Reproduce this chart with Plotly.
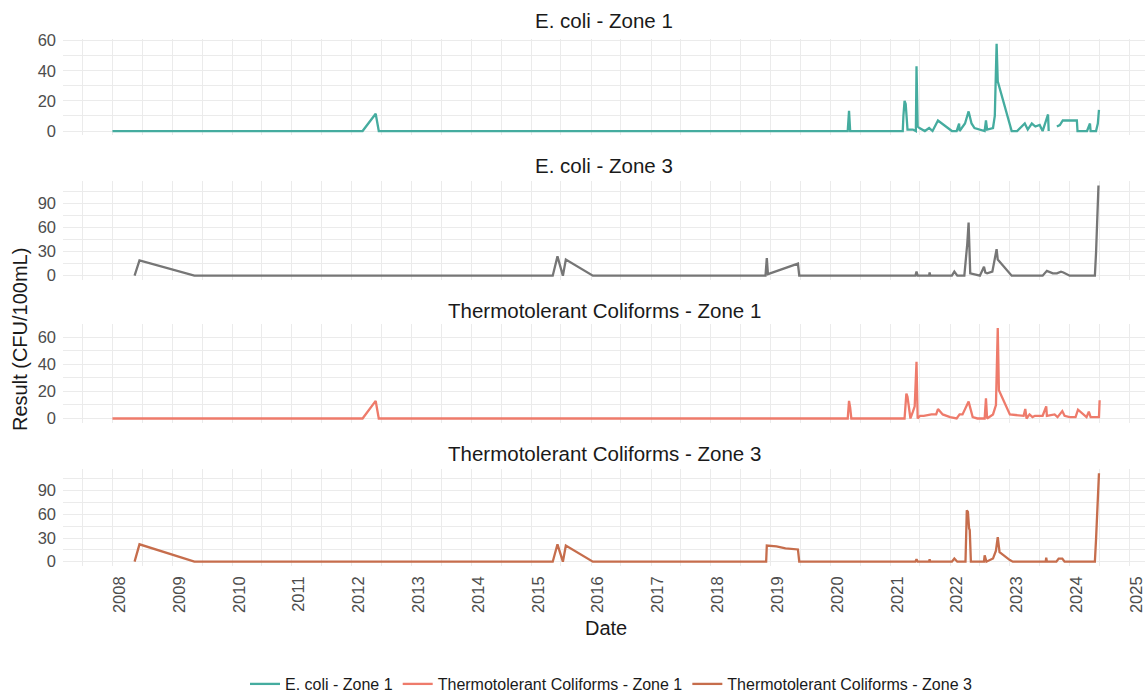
import plotly.graph_objects as go
from plotly.subplots import make_subplots

# ---- Sample results (CFU/100mL) by parameter and zone ----
ecoli_z1_dates = [
    "2008-01-01", "2012-03-07", "2012-05-26", "2012-06-14", "2020-04-16", "2020-04-24",
    "2020-05-01", "2021-03-18", "2021-03-22", "2021-03-29", "2021-04-05", "2021-04-16",
    "2021-05-19", "2021-06-06", "2021-06-10", "2021-06-17", "2021-06-28", "2021-07-31",
    "2021-08-26", "2021-09-16", "2021-10-19", "2022-01-12", "2022-02-10", "2022-02-25",
    "2022-02-28", "2022-04-02", "2022-04-24", "2022-05-12", "2022-05-30", "2022-07-02",
    "2022-07-31", "2022-08-08", "2022-08-15", "2022-09-20", "2022-10-01", "2022-10-12",
    "2022-10-19", "2023-01-12", "2023-02-14", "2023-04-02", "2023-04-20", "2023-05-15",
    "2023-06-06", "2023-07-02", "2023-07-20", "2023-08-22", "2023-08-26", "2023-09-15",
    "2023-10-15", "2023-11-02", "2023-11-20", "2024-02-14", "2024-02-18", "2024-04-16",
    "2024-05-04", "2024-05-08", "2024-06-10", "2024-06-21", "2024-06-28",
]
ecoli_z1_values = [
    0, 0, 11.5, 0, 0, 13.5,
    0, 0, 10, 20, 18, 1,
    1, 0, 43, 3, 2, 0,
    2, 0, 7, 0, 0, 5,
    0, 5, 13, 5, 2, 1,
    0, 7, 1, 2, 10, 58,
    33, 0, 0, 5, 1, 5,
    3, 4, 0, 11, 0, None,
    3, 4, 7, 7, 0, 0,
    5, 0, 0, 5, 14,
]

ecoli_z3_dates = [
    "2008-05-15", "2008-06-14", "2009-05-15", "2015-05-12", "2015-06-10", "2015-07-13",
    "2015-07-31", "2016-01-12", "2018-12-01", "2018-12-09", "2018-12-16", "2019-06-17",
    "2019-06-25", "2021-06-03", "2021-06-10", "2021-06-17", "2021-08-26", "2021-08-29",
    "2021-09-02", "2022-01-12", "2022-01-27", "2022-02-14", "2022-03-29", "2022-04-02",
    "2022-04-09", "2022-04-16", "2022-04-24", "2022-04-27", "2022-05-04", "2022-07-02",
    "2022-07-27", "2022-08-04", "2022-08-15", "2022-09-16", "2022-10-12", "2022-10-19",
    "2023-01-12", "2023-07-20", "2023-08-15", "2023-09-20", "2023-10-15", "2023-11-09",
    "2023-11-24", "2024-01-01", "2024-06-03", "2024-06-10", "2024-06-17", "2024-06-25",
]
ecoli_z3_values = [
    0, 19, 0, 0, 24, 0,
    20, 0, 0, 22, 2, 15,
    0, 0, 5, 0, 0, 4,
    0, 0, 5, 0, 0, 8,
    18, 40, 66, 45, 3, 0,
    11, 4, 3, 5, 33, 20,
    0, 0, 6, 3, 3, 5,
    4, 0, 0, 28, 80, 112,
]

thermo_z1_dates = [
    "2008-01-01", "2012-03-07", "2012-05-26", "2012-06-14", "2020-04-16", "2020-04-24",
    "2020-05-01", "2020-05-08", "2021-03-29", "2021-04-09", "2021-04-16", "2021-05-04",
    "2021-05-19", "2021-05-30", "2021-06-10", "2021-06-17", "2021-07-02", "2021-07-24",
    "2021-09-09", "2021-10-08", "2021-10-19", "2021-11-17", "2022-01-01", "2022-02-10",
    "2022-02-28", "2022-03-18", "2022-04-24", "2022-05-12", "2022-05-19", "2022-06-17",
    "2022-07-31", "2022-08-08", "2022-08-15", "2022-09-20", "2022-10-08", "2022-10-19",
    "2022-10-26", "2023-01-01", "2023-03-26", "2023-04-05", "2023-04-13", "2023-05-01",
    "2023-05-19", "2023-06-03", "2023-07-20", "2023-08-11", "2023-08-15", "2023-10-01",
    "2023-10-19", "2023-11-17", "2023-12-01", "2024-01-01", "2024-02-06", "2024-02-21",
    "2024-03-22", "2024-04-13", "2024-04-27", "2024-05-08", "2024-06-03", "2024-06-28",
    "2024-07-02",
]
thermo_z1_values = [
    0, 0, 13, 0, 0, 13,
    8, 0, 0, 18.5, 16, 0,
    5, 9, 42, 0, 2, 2,
    3, 3, 7, 3, 1, 0,
    3, 3, 12.5, 5, 1, 0,
    0, 15, 0, 3, 10, 67,
    21, 3, 2, 7, 0, 3,
    1, 2, 2, 9, 2, 3,
    1, 5.5, 2, 1, 1, 6.5,
    3, 1, 5, 1, 1, 1,
    13.5,
]

thermo_z3_dates = [
    "2008-05-15", "2008-06-14", "2009-05-15", "2015-05-12", "2015-06-10", "2015-07-13",
    "2015-07-31", "2016-01-12", "2018-12-05", "2018-12-09", "2019-02-06", "2019-04-02",
    "2019-06-17", "2019-06-25", "2021-06-03", "2021-06-10", "2021-06-17", "2021-08-26",
    "2021-08-29", "2021-09-02", "2022-01-12", "2022-01-27", "2022-02-14", "2022-04-05",
    "2022-04-13", "2022-04-20", "2022-04-27", "2022-05-01", "2022-05-08", "2022-07-27",
    "2022-07-31", "2022-08-11", "2022-09-20", "2022-10-08", "2022-10-19", "2022-10-30",
    "2023-01-01", "2023-01-19", "2023-08-08", "2023-08-11", "2023-08-15", "2023-10-12",
    "2023-10-26", "2023-11-17", "2023-12-01", "2024-06-03", "2024-06-10", "2024-06-17",
    "2024-06-21", "2024-06-28",
]
thermo_z3_values = [
    0, 22, 0, 0, 22, 0,
    20.5, 0, 0, 20.5, 19.5, 17,
    15.5, 0, 0, 3, 0, 0,
    3, 0, 0, 4, 0, 0,
    65, 63, 42, 40, 0, 0,
    8, 0, 4, 14, 31, 12,
    2, 0, 0, 5, 0, 0,
    4, 4, 0, 0, 28, 56,
    82, 112,
]

panel_titles = [
    "E. coli - Zone 1",
    "E. coli - Zone 3",
    "Thermotolerant Coliforms - Zone 1",
    "Thermotolerant Coliforms - Zone 3",
]
year_ticks = [str(y) for y in range(2008, 2026)]

# ---- Styling ----
FONT = "Liberation Sans, Arial, sans-serif"
TEXT_DARK = "#1a1a1a"
TICK_GREY = "#4d4d4d"
GRID = "#ebebeb"
W, H = 1145, 692
LEFT = 63

series = [
    (ecoli_z1_dates, ecoli_z1_values, "E. coli - Zone 1", "#45AC9F", True),
    (ecoli_z3_dates, ecoli_z3_values, "E. coli - Zone 3", "#767676", False),
    (thermo_z1_dates, thermo_z1_values, "Thermotolerant Coliforms - Zone 1", "#EE7B6B", True),
    (thermo_z3_dates, thermo_z3_values, "Thermotolerant Coliforms - Zone 3", "#C66D4C", True),
]

# panel pixel extents (top, bottom), y ranges and tick steps
panel_px = [(39.3, 135.4), (181.0, 280.2), (323.5, 423.0), (468.9, 566.1)]
y_ranges = [(-2.9, 60.9), (-5.6, 117.6), (-3.35, 70.35), (-5.6, 117.6)]
y_steps = [20, 30, 20, 30]
title_px = [20, 165, 310, 453]

fig = make_subplots(rows=4, cols=1, shared_xaxes=True)

for i, (d, v, name, color, show) in enumerate(series):
    fig.add_trace(
        go.Scatter(
            x=d, y=v, mode="lines", name=name, showlegend=show,
            line=dict(color=color, width=2.3), connectgaps=False,
        ),
        row=i + 1, col=1,
    )

for i in range(4):
    top, bot = panel_px[i]
    dom = [1 - bot / H, 1 - top / H]
    fig.update_yaxes(
        domain=dom, range=list(y_ranges[i]), dtick=y_steps[i], tick0=0,
        showgrid=True, gridcolor=GRID, gridwidth=1.1, zeroline=False,
        showline=False, ticks="", ticklabelstandoff=6,
        minor=dict(dtick=y_steps[i] / 2, tick0=0, showgrid=True, gridcolor=GRID, gridwidth=0.6),
        tickfont=dict(family=FONT, size=16.5, color=TICK_GREY),
        row=i + 1, col=1,
    )
    fig.update_xaxes(
        type="date", range=["2007-03-05", "2025-04-05"],
        tickmode="array",
        tickvals=[f"{y}-01-01" for y in year_ticks],
        ticktext=year_ticks,
        showgrid=True, gridcolor=GRID, gridwidth=1.1, zeroline=False,
        showline=False, ticks="",
        minor=dict(dtick="M6", tick0="2008-01-01", showgrid=True, gridcolor=GRID, gridwidth=0.6),
        showticklabels=(i == 3),
        tickangle=-90,
        ticklabelshift=7,
        ticklabelstandoff=6,
        tickfont=dict(family=FONT, size=16.5, color=TICK_GREY),
        row=i + 1, col=1,
    )

annotations = []
for t, ypx in zip(panel_titles, title_px):
    annotations.append(dict(
        text=t, x=0.5, y=1 - ypx / H, xref="paper", yref="paper",
        xanchor="center", yanchor="middle", showarrow=False,
        font=dict(family=FONT, size=20.5, color=TEXT_DARK),
    ))
annotations.append(dict(
    text="Date", x=(606 - LEFT) / (W - LEFT), y=1 - 628 / H, xref="paper", yref="paper",
    xanchor="center", yanchor="middle", showarrow=False,
    font=dict(family=FONT, size=20, color=TEXT_DARK),
))
annotations.append(dict(
    text="Result (CFU/100mL)", x=(20 - LEFT) / (W - LEFT), y=1 - 340 / H,
    xref="paper", yref="paper", xanchor="center", yanchor="middle",
    textangle=-90, showarrow=False,
    font=dict(family=FONT, size=20, color=TEXT_DARK),
))

fig.update_layout(
    width=W, height=H,
    margin=dict(l=LEFT, r=0, t=0, b=0, autoexpand=False),
    paper_bgcolor="white", plot_bgcolor="white",
    annotations=annotations,
    legend=dict(
        orientation="h", x=(611 - LEFT) / (W - LEFT), xanchor="center",
        y=1 - 684 / H, yanchor="middle",
        font=dict(family=FONT, size=16, color=TEXT_DARK),
        itemwidth=30,
    ),
    hovermode=False,
)

fig.write_html("out.html")
